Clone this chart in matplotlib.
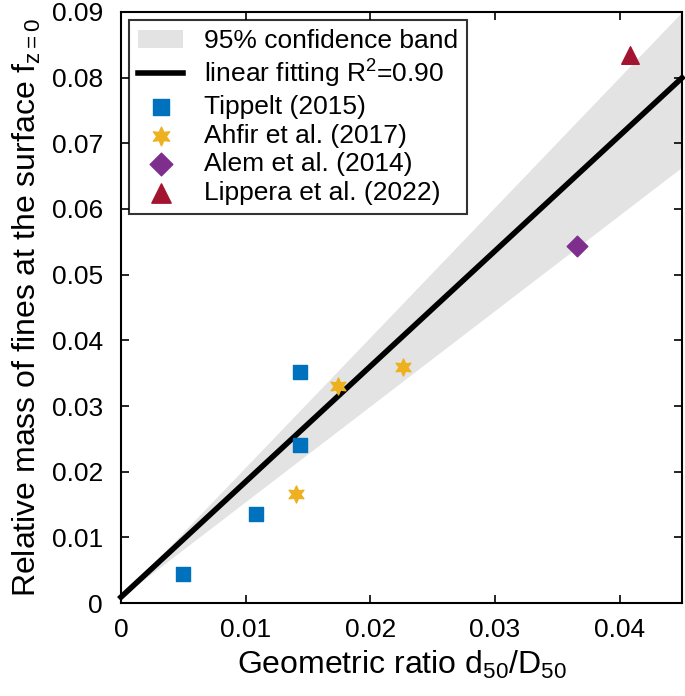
import numpy as np
import matplotlib.pyplot as plt

plt.rcParams['font.family'] = ['Liberation Sans', 'DejaVu Sans']
plt.rcParams['mathtext.fontset'] = 'custom'
plt.rcParams['mathtext.rm'] = 'Liberation Sans'
plt.rcParams['mathtext.it'] = 'Liberation Sans'

# data
tippelt_x = [0.0050, 0.0108, 0.0144, 0.0144]
tippelt_y = [0.0044, 0.0135, 0.0241, 0.0352]
ahfir_x = [0.0140, 0.0174, 0.0226]
ahfir_y = [0.0166, 0.0331, 0.0360]
alem_x = [0.0366]
alem_y = [0.0544]
lippera_x = [0.0408]
lippera_y = [0.0834]

# linear fit and confidence band (slopes/intercept estimated)
fit_slope = 1.757
fit_intercept = 0.0009
band_upper_slope = 1.98
band_lower_slope = 1.455
x_range = [0.0, 0.045]

fig = plt.figure(figsize=(6.85, 6.96), dpi=100)
ax = fig.add_axes([0.1766, 0.1336, 0.819, 0.8492])

xs = np.array(x_range)
ax.fill_between(xs, fit_intercept + band_lower_slope * xs,
                fit_intercept + band_upper_slope * xs,
                color='#e3e3e3', lw=0, label='95% confidence band', zorder=1)
ax.plot(xs, fit_intercept + fit_slope * xs, color='black', lw=4,
        label='linear fitting R$^2$=0.90', zorder=2, clip_on=False)

ax.scatter(tippelt_x, tippelt_y, marker='s', s=110, color='#0072BD',
           label='Tippelt (2015)', zorder=3)
ax.scatter(ahfir_x, ahfir_y, marker=(6, 1, 0), s=150, color='#EDB120',
           label='Ahfir et al. (2017)', zorder=3)
ax.scatter(alem_x, alem_y, marker='D', s=110, color='#7E2F8E',
           label='Alem et al. (2014)', zorder=3)
ax.scatter(lippera_x, lippera_y, marker='^', s=160, color='#A2142F',
           label='Lippera et al. (2022)', zorder=3)

ax.set_xlim(0, 0.045)
ax.set_ylim(0, 0.09)
ax.set_xticks([0, 0.01, 0.02, 0.03, 0.04])
ax.set_xticklabels(['0', '0.01', '0.02', '0.03', '0.04'])
ax.set_yticks(np.arange(0, 0.091, 0.01))
ax.set_yticklabels(['0'] + ['%.2f' % v for v in np.arange(0.01, 0.091, 0.01)])
ax.tick_params(direction='in', top=True, right=True, labelsize=19, length=6,
               width=1.2)
ax.tick_params(axis='y', pad=13)
ax.tick_params(axis='x', pad=11)
for sp in ax.spines.values():
    sp.set_linewidth(1.5)

ax.set_xlabel('Geometric ratio d$_{50}$/D$_{50}$', fontsize=23, labelpad=5)
ax.set_ylabel('Relative mass of fines at the surface f$_{z=0}$', fontsize=23,
              labelpad=6)

leg = ax.legend(loc='upper left', fontsize=19, frameon=True, fancybox=False,
                edgecolor='black', borderaxespad=0.3, handlelength=1.7,
                labelspacing=0.18, borderpad=0.35, handletextpad=0.8,
                markerscale=1.1)
leg.get_frame().set_linewidth(1.5)

fig.savefig('out.png', dpi=100)
